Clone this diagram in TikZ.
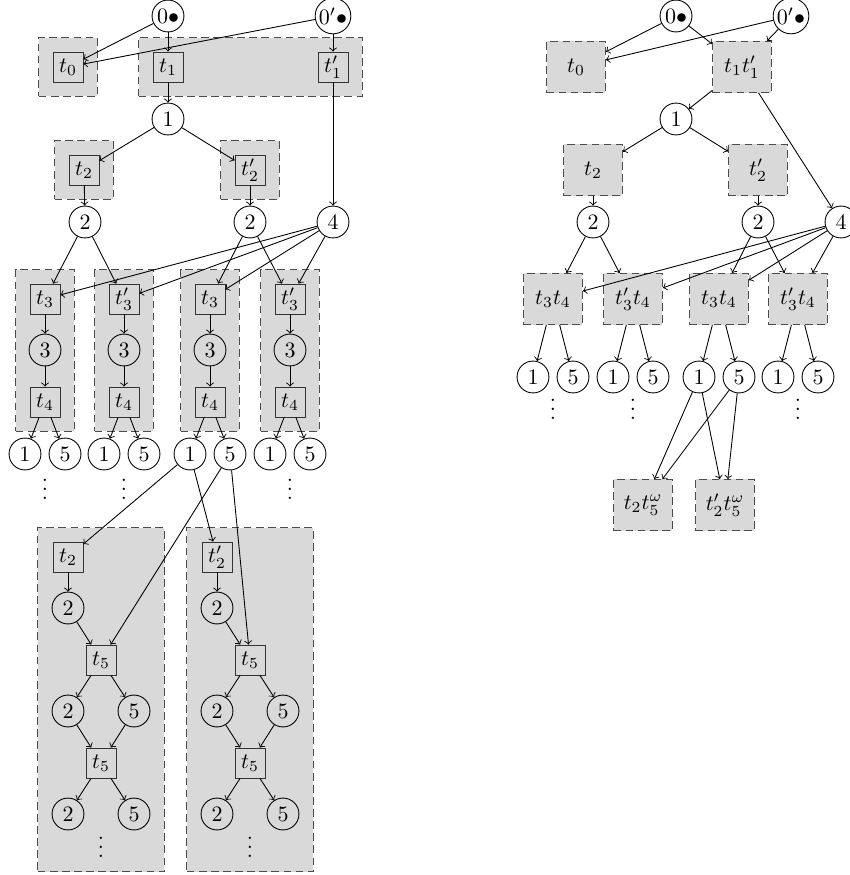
\documentclass[tikz,border=0pt]{standalone}
\usepackage{amssymb}
\usepackage{amsmath}
\usetikzlibrary{fit,backgrounds}

\tikzset{
    place/.style={circle,draw,minimum size=14.5pt,inner sep=0.5pt},
    trans/.style={rectangle,draw=black!80,minimum size=13.6pt,inner sep=1pt},
    groupbox/.style={rectangle,draw=black!70,fill=gray!30,dash pattern=on 3.5pt off 2pt,inner sep=6.3pt},
    stepbox/.style={rectangle,draw=black!70,fill=gray!30,dash pattern=on 3.5pt off 2pt,
        minimum width=26.8pt,minimum height=23.2pt,inner sep=1pt},
    vdotsnode/.style={inner sep=0pt},
}

\begin{document}
\begin{tikzpicture}[x=0.4545pt,y=-0.4545pt]
        \useasboundingbox (0,0) rectangle (849,875);
        % --- Unfolding: top ---
        \node[place] (n0) at (168,16) {$0\bullet$};
        \node[place] (n0p) at (333,16) {$0'\bullet$};
        \node[trans] (t0) at (68,67) {$t_0$};
        \node[trans] (t1) at (168,67) {$t_1$};
        \node[trans] (t1p) at (333,67) {$t'_1$};
        \node[place] (p1) at (168,119) {$1$};
        \node[trans] (t2) at (84,170) {$t_2$};
        \node[trans] (t2p) at (250,170) {$t'_2$};
        \node[place] (p2) at (85,222) {$2$};
        \node[place] (p2p) at (250,222) {$2$};
        \node[place] (p4) at (333,222) {$4$};
        \draw[->] (n0) -- (t0);
        \draw[->] (n0p) -- (t0);
        \draw[->] (n0) -- (t1);
        \draw[->] (n0p) -- (t1p);
        \draw[->] (t1) -- (p1);
        \draw[->] (t1p) -- (p4);
        \draw[->] (p1) -- (t2);
        \draw[->] (p1) -- (t2p);
        \draw[->] (t2) -- (p2);
        \draw[->] (t2p) -- (p2p);
        % --- Unfolding: columns ---
        \begin{scope}[shift={(45,0)}]
            \node[trans] (c1t3) at (0,299) {$t_3$};
            \node[place] (c1p3) at (0,350) {$3$};
            \node[trans] (c1t4) at (0,402) {$t_4$};
            \node[place] (c1p1) at (-20,454) {$1$};
            \node[place] (c1p5) at (20,454) {$5$};
            \node[vdotsnode] (c1d) at (0,483) {$\vdots$};
        \end{scope}
        \begin{scope}[shift={(124,0)}]
            \node[trans] (c2t3) at (0,299) {$t'_3$};
            \node[place] (c2p3) at (0,350) {$3$};
            \node[trans] (c2t4) at (0,402) {$t_4$};
            \node[place] (c2p1) at (-20,454) {$1$};
            \node[place] (c2p5) at (20,454) {$5$};
            \node[vdotsnode] (c2d) at (0,483) {$\vdots$};
        \end{scope}
        \begin{scope}[shift={(210,0)}]
            \node[trans] (c3t3) at (0,299) {$t_3$};
            \node[place] (c3p3) at (0,350) {$3$};
            \node[trans] (c3t4) at (0,402) {$t_4$};
            \node[place] (c3p1) at (-20,454) {$1$};
            \node[place] (c3p5) at (20,454) {$5$};
        \end{scope}
        \begin{scope}[shift={(290,0)}]
            \node[trans] (c4t3) at (0,299) {$t'_3$};
            \node[place] (c4p3) at (0,350) {$3$};
            \node[trans] (c4t4) at (0,402) {$t_4$};
            \node[place] (c4p1) at (-20,454) {$1$};
            \node[place] (c4p5) at (20,454) {$5$};
            \node[vdotsnode] (c4d) at (0,483) {$\vdots$};
        \end{scope}
        \draw[->] (p2) -- (c1t3);
        \draw[->] (p2) -- (c2t3);
        \draw[->] (p2p) -- (c3t3);
        \draw[->] (p2p) -- (c4t3);
        \draw[->] (p4) -- (c1t3);
        \draw[->] (p4) -- (c2t3);
        \draw[->] (p4) -- (c3t3);
        \draw[->] (p4) -- (c4t3);
        \draw[->] (c1t3) -- (c1p3);
        \draw[->] (c1p3) -- (c1t4);
        \draw[->] (c1t4) -- (c1p1);
        \draw[->] (c1t4) -- (c1p5);
        \draw[->] (c2t3) -- (c2p3);
        \draw[->] (c2p3) -- (c2t4);
        \draw[->] (c2t4) -- (c2p1);
        \draw[->] (c2t4) -- (c2p5);
        \draw[->] (c3t3) -- (c3p3);
        \draw[->] (c3p3) -- (c3t4);
        \draw[->] (c3t4) -- (c3p1);
        \draw[->] (c3t4) -- (c3p5);
        \draw[->] (c4t3) -- (c4p3);
        \draw[->] (c4p3) -- (c4t4);
        \draw[->] (c4t4) -- (c4p1);
        \draw[->] (c4t4) -- (c4p5);
        % --- Unfolding: t5 loops ---
        \begin{scope}
            \node[trans] (at2) at (68,557) {$t_2$};
            \node[place] (ap2) at (68,608) {$2$};
            \node[trans] (at5) at (101,660) {$t_5$};
            \node[place] (ap2b) at (68,711) {$2$};
            \node[place] (ap5b) at (134,711) {$5$};
            \node[trans] (at5b) at (101,763) {$t_5$};
            \node[place] (ap2c) at (68,814) {$2$};
            \node[place] (ap5c) at (134,814) {$5$};
            \node[vdotsnode] (ad) at (101,841) {$\vdots$};
        \end{scope}
        \begin{scope}[shift={(149,0)}]
            \node[trans] (bt2) at (68,557) {$t'_2$};
            \node[place] (bp2) at (68,608) {$2$};
            \node[trans] (bt5) at (101,660) {$t_5$};
            \node[place] (bp2b) at (68,711) {$2$};
            \node[place] (bp5b) at (134,711) {$5$};
            \node[trans] (bt5b) at (101,763) {$t_5$};
            \node[place] (bp2c) at (68,814) {$2$};
            \node[place] (bp5c) at (134,814) {$5$};
            \node[vdotsnode] (bd) at (101,841) {$\vdots$};
        \end{scope}
        \draw[->] (c3p1) -- (at2);
        \draw[->] (c3p5) -- (at5);
        \draw[->] (c3p1) -- (bt2);
        \draw[->] (c3p5) -- (bt5);
        \draw[->] (at2) -- (ap2);
        \draw[->] (ap2) -- (at5);
        \draw[->] (at5) -- (ap2b);
        \draw[->] (at5) -- (ap5b);
        \draw[->] (ap2b) -- (at5b);
        \draw[->] (ap5b) -- (at5b);
        \draw[->] (at5b) -- (ap2c);
        \draw[->] (at5b) -- (ap5c);
        \draw[->] (bt2) -- (bp2);
        \draw[->] (bp2) -- (bt5);
        \draw[->] (bt5) -- (bp2b);
        \draw[->] (bt5) -- (bp5b);
        \draw[->] (bp2b) -- (bt5b);
        \draw[->] (bp5b) -- (bt5b);
        \draw[->] (bt5b) -- (bp2c);
        \draw[->] (bt5b) -- (bp5c);
        % --- Unfolding: gray boxes ---
        \begin{scope}[on background layer]
            \node[groupbox,fit=(t0)] {};
            \node[groupbox,fit=(t1)(t1p)] {};
            \node[groupbox,fit=(t2)] {};
            \node[groupbox,fit=(t2p)] {};
            \node[groupbox,fit=(c1t3)(c1t4)] {};
            \node[groupbox,fit=(c2t3)(c2t4)] {};
            \node[groupbox,fit=(c3t3)(c3t4)] {};
            \node[groupbox,fit=(c4t3)(c4t4)] {};
            \node[groupbox,fit=(at2)(ap2c)(ap5c)(ad)] {};
            \node[groupbox,fit=(bt2)(bp2c)(bp5c)(bd)] {};
        \end{scope}
        % --- Merged steps ---
        \begin{scope}[shift={(508,0)}]
            \node[place] (r0) at (168,16) {$0\bullet$};
            \node[place] (r0p) at (283,16) {$0'\bullet$};
            \node[stepbox] (rt0) at (68,67) {$t_0$};
            \node[stepbox] (rt1) at (234,67) {$t_1t'_1$};
            \node[place] (r1) at (168,119) {$1$};
            \node[stepbox] (rt2) at (85,170) {$t_2$};
            \node[stepbox] (rt2p) at (250,170) {$t'_2$};
            \node[place] (r2) at (85,222) {$2$};
            \node[place] (r2p) at (250,222) {$2$};
            \node[place] (r4) at (333,222) {$4$};
            \node[stepbox] (rs1) at (45,299) {$t_3t_4$};
            \node[stepbox] (rs2) at (125,299) {$t'_3t_4$};
            \node[stepbox] (rs3) at (211,299) {$t_3t_4$};
            \node[stepbox] (rs4) at (290,299) {$t'_3t_4$};
            \node[place] (rs1p1) at (25,377) {$1$};
            \node[place] (rs1p5) at (65,377) {$5$};
            \node[place] (rs2p1) at (105,377) {$1$};
            \node[place] (rs2p5) at (145,377) {$5$};
            \node[place] (rs3p1) at (191,377) {$1$};
            \node[place] (rs3p5) at (231,377) {$5$};
            \node[place] (rs4p1) at (270,377) {$1$};
            \node[place] (rs4p5) at (310,377) {$5$};
            \node[vdotsnode] (rs1d) at (45,403) {$\vdots$};
            \node[vdotsnode] (rs2d) at (125,403) {$\vdots$};
            \node[vdotsnode] (rs4d) at (290,403) {$\vdots$};
            \node[stepbox] (rt25) at (135,505) {$t_2t_5^\omega$};
            \node[stepbox] (rt25p) at (217,505) {$t'_2t_5^\omega$};
        \end{scope}
        \draw[->] (r0) -- (rt0);
        \draw[->] (r0p) -- (rt0);
        \draw[->] (r0) -- (rt1);
        \draw[->] (r0p) -- (rt1);
        \draw[->] (rt1) -- (r1);
        \draw[->] (rt1) -- (r4);
        \draw[->] (r1) -- (rt2);
        \draw[->] (r1) -- (rt2p);
        \draw[->] (rt2) -- (r2);
        \draw[->] (rt2p) -- (r2p);
        \draw[->] (r2) -- (rs1);
        \draw[->] (r2) -- (rs2);
        \draw[->] (r2p) -- (rs3);
        \draw[->] (r2p) -- (rs4);
        \draw[->] (r4) -- (rs1);
        \draw[->] (r4) -- (rs2);
        \draw[->] (r4) -- (rs3);
        \draw[->] (r4) -- (rs4);
        \draw[->] (rs1) -- (rs1p1);
        \draw[->] (rs1) -- (rs1p5);
        \draw[->] (rs2) -- (rs2p1);
        \draw[->] (rs2) -- (rs2p5);
        \draw[->] (rs3) -- (rs3p1);
        \draw[->] (rs3) -- (rs3p5);
        \draw[->] (rs4) -- (rs4p1);
        \draw[->] (rs4) -- (rs4p5);
        \draw[->] (rs3p1) -- (rt25);
        \draw[->] (rs3p5) -- (rt25);
        \draw[->] (rs3p1) -- (rt25p);
        \draw[->] (rs3p5) -- (rt25p);
    \end{tikzpicture}
\end{document}
